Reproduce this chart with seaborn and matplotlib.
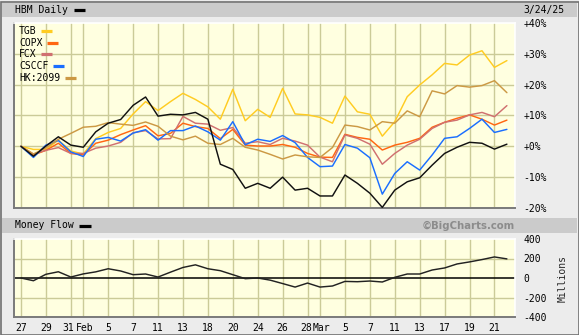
import numpy as np
import pandas as pd
import matplotlib
matplotlib.use("Agg")
import matplotlib.pyplot as plt
import seaborn as sns
from matplotlib.patches import Rectangle
from matplotlib.lines import Line2D
from matplotlib.transforms import ScaledTranslation

# ---------------- data ----------------
dates = ["1/27", "1/28", "1/29", "1/30", "1/31",
         "2/3", "2/4", "2/5", "2/6", "2/7", "2/10", "2/11", "2/12", "2/13", "2/14",
         "2/18", "2/19", "2/20", "2/21", "2/24", "2/25", "2/26", "2/27", "2/28",
         "3/3", "3/4", "3/5", "3/6", "3/7", "3/10", "3/11", "3/12", "3/13", "3/14",
         "3/17", "3/18", "3/19", "3/20", "3/21", "3/24"]

hbm = [0, -3.2, 0.1, 3.1, 0.4, -0.3, 4.7, 7.5, 8.7, 13.3, 16, 9.8, 10.4, 10.2, 11,
       8.8, -5.8, -7.5, -13.6, -12, -13.6, -10, -14.2, -13.6, -16.1, -16.1, -9.3,
       -12, -15.2, -19.8, -14.2, -11.5, -10.2, -6.1, -2.3, -0.3, 1.3, 1, -0.9, 0.7]
tgb = [0, -1, -1, 2, -1.5, -2.5, 2.5, 4.5, 5.8, 10.5, 14.5, 11.6, 14.5, 17.2, 15.2,
       12.8, 8.8, 18.5, 8.3, 12, 9.4, 18.8, 10.5, 10.2, 9.4, 7.5, 16.3, 11.2, 10.4,
       3.3, 8, 16.1, 19.9, 23.2, 26.9, 26.4, 29.6, 31, 25.6, 27.8]
copx = [0, -2.8, -1.3, 1, -2.3, -2.8, 1, 2, 3.8, 5.3, 6.7, 3.4, 4.2, 7.5, 6.4, 5.8,
        2.5, 5.5, 0.4, 0.1, 0.1, 0.6, -0.3, -2.3, -3.5, -3.6, 3.9, 2.9, 2.3, -1.2,
        0.4, 1.3, 2.6, 6.2, 7.8, 9.1, 10.2, 8.8, 6.9, 8.5]
fcx = [0, -2.5, -1.3, -0.4, -2.3, -2.3, -0.6, 0.1, 1.3, 4.4, 5.1, 2.4, 2.5, 9.7, 7.5,
       7.2, 5.2, 6.1, 1, 1.5, 0.6, 2.6, 1.7, 0.4, -3.5, -5, 3.7, 2.6, 0.7, -5.8, -2.3,
       0.4, 2.3, 5.8, 7.8, 8.5, 10.2, 11, 9.6, 13.2]
csccf = [0, -3.6, 0.4, 1.9, -1.8, -3.3, 2.3, 2.9, 1.7, 4.3, 5.4, 2, 5.1, 5.1, 6.6,
         4.7, 2, 8, 0.5, 2.3, 1.6, 3.5, 1.2, -3.6, -6.6, -6.4, 0.6, -0.6, -3.7, -15.5,
         -8.8, -5, -7.7, -2.8, 2.6, 3.1, 5.8, 8.8, 4.5, 5.5]
hk2099 = [0, -2.5, -0.5, 2.3, 4.2, 6.2, 6.5, 7.7, 7.2, 6.8, 7.9, 6.5, 3.3, 2.1, 3.3,
          1, 0.6, 2.6, -0.3, -1.2, -2.6, -4.1, -2.8, -3.4, -3.6, -0.4, 6.9, 6.4, 5.3,
          8, 7.5, 11.5, 9.6, 18, 17, 19.7, 19.2, 19.7, 21.3, 17.4]
money_flow = [0, -28, 38, 64, 10, 42, 63, 95, 72, 34, 41, 10, 60, 108, 135, 95, 75,
              34, -7, 0, -22, -57, -93, -52, -93, -82, -35, -38, -31, -41, 7, 41, 41,
              82, 103, 144, 165, 189, 216, 196]

series_names = ["TGB", "COPX", "FCX", "CSCCF", "HK:2099", "HBM"]
series_vals = [tgb, copx, fcx, csccf, hk2099, hbm]
colors = {"TGB": "#FFCC22", "COPX": "#FF6611", "FCX": "#D07070",
          "CSCCF": "#1A6EFF", "HK:2099": "#CC9944", "HBM": "#111111"}

tick_pos = [0, 2, 4, 5, 7, 9, 11, 13, 15, 17, 19, 21, 23, 24, 26, 28, 30, 32, 34, 36, 38]
tick_labels = ["27", "29", "31", "Feb", "5", "7", "11", "13", "18", "20", "24", "26",
               "28", "Mar", "5", "7", "11", "13", "17", "19", "21"]
pct_ticks = [40, 30, 20, 10, 0, -10, -20]
pct_labels = ["+40%", "+30%", "+20%", "+10%", "+0%", "-10%", "-20%"]
mf_ticks = [400, 200, 0, -200, -400]
mf_labels = ["400", "200", "0", "-200", "-400"]

# ---------------- frame ----------------
sns.set_style("white")
plt.rcParams["font.family"] = ["DejaVu Sans Mono", "DejaVu Sans"]
W, H = 579, 335
fig = plt.figure(figsize=(W / 100, H / 100), dpi=100, facecolor="#ECECEC")

def fx(px):
    return px / W

def fy(py):
    return 1 - py / H

# border and header bands
fig.add_artist(Rectangle((fx(0.5), fy(334.5)), fx(578), 333 / H, transform=fig.transFigure,
                         facecolor="none", edgecolor="#707070", lw=1.2))
fig.add_artist(Rectangle((fx(2), fy(17)), fx(575), 14 / H, transform=fig.transFigure,
                         facecolor="#CBCBCB", edgecolor="none"))
fig.add_artist(Rectangle((fx(2), fy(233)), fx(575), 15 / H, transform=fig.transFigure,
                         facecolor="#CBCBCB", edgecolor="none"))

txt_kw = dict(fontsize=7, color="black", va="center", ha="left")
fig.text(fx(15), fy(10), "HBM Daily", **txt_kw)
fig.add_artist(Line2D([fx(74), fx(85)], [fy(9.7), fy(9.7)], transform=fig.transFigure,
                      color="black", lw=2.3, solid_capstyle="butt"))
fig.text(fx(523), fy(10), "3/24/25", **txt_kw)
fig.text(fx(15), fy(225.5), "Money Flow", **txt_kw)
fig.add_artist(Line2D([fx(79), fx(91)], [fy(225.5), fy(225.5)], transform=fig.transFigure,
                      color="black", lw=2.3, solid_capstyle="butt"))
fig.text(fx(515), fy(225.5), "\u00a9BigCharts.com", fontsize=7.3, color="#8C8C8C",
         fontweight="bold", family="DejaVu Sans", va="center", ha="right")
fig.text(fx(563), fy(278), "Millions", fontsize=7, rotation=90, va="center", ha="center")

# ---------------- panels ----------------
ax1 = fig.add_axes([fx(14), fy(208), 501 / W, 185 / H])
ax2 = fig.add_axes([fx(14), fy(317), 501 / W, 78 / H])

df = pd.DataFrame({
    "idx": np.tile(np.arange(len(dates)), len(series_names)),
    "val": np.concatenate([np.asarray(v, float) for v in series_vals]),
    "ticker": np.repeat(series_names, len(dates)),
})
sns.lineplot(data=df, x="idx", y="val", hue="ticker", hue_order=series_names,
             palette=colors, lw=1.05, legend=False, ax=ax1, zorder=3)

mf_df = pd.DataFrame({"idx": np.arange(len(dates)), "mf": money_flow})
sns.lineplot(data=mf_df, x="idx", y="mf", color="#222222", lw=1.05, ax=ax2, zorder=3)
ax2.axhline(0, color="black", lw=1.1, zorder=2)

xlim = (-0.56, 39.65)
for ax, yl, yt, ytl, hg in [(ax1, (-20, 40), pct_ticks, pct_labels, [-10, 0, 10, 20, 30]),
                            (ax2, (-400, 400), mf_ticks, mf_labels, [-200, 200])]:
    ax.set_facecolor("#FFFFE0")
    ax.set_xlim(*xlim)
    ax.set_ylim(*yl)
    for t in tick_pos:
        ax.axvline(t, color="#CBCB98", lw=1.0, zorder=1)
    for h in hg:
        ax.axhline(h, color="#CBCB98", lw=1.0, zorder=1)
    ax.yaxis.tick_right()
    ax.set_yticks(yt)
    ax.set_yticklabels(ytl)
    ax.set_xlabel("")
    ax.set_ylabel("")
    ax.tick_params(axis="both", length=0, labelsize=7, colors="black")
    ax.tick_params(axis="y", pad=6)
    for s in ["left", "bottom"]:
        ax.spines[s].set_color("#7A7A7A")
        ax.spines[s].set_linewidth(1.4)
    for s in ["top", "right"]:
        ax.spines[s].set_color("#FFFFFF")
        ax.spines[s].set_linewidth(1.2)
    ax.spines[:].set_visible(True)

ax1.set_xticks(tick_pos)
ax1.set_xticklabels([])
ax2.set_xticks(tick_pos)
ax2.set_xticklabels(tick_labels)
ax2.tick_params(axis="x", pad=4)

# nudge the touching label pairs ("31"/"Feb", "28"/"Mar") apart slightly
nudges = {2: -2.2, 3: 1.8, 12: -1.6, 13: 1.6}
for i, lab in enumerate(ax2.get_xticklabels()):
    if i in nudges:
        lab.set_transform(lab.get_transform() +
                          ScaledTranslation(nudges[i] / 100, 0, fig.dpi_scale_trans))

# legend (label followed by colour bar)
char_w = 5.85
for k, name in enumerate(series_names[:-1]):
    y = 31 + k * 11.7
    fig.text(fx(19), fy(y), name, **txt_kw)
    x0 = 19 + (len(name) + 1) * char_w - 1
    fig.add_artist(Line2D([fx(x0), fx(x0 + 11)], [fy(y), fy(y)], transform=fig.transFigure,
                          color=colors[name], lw=2.3, solid_capstyle="butt"))

fig.savefig("out.png", dpi=100, facecolor=fig.get_facecolor())
